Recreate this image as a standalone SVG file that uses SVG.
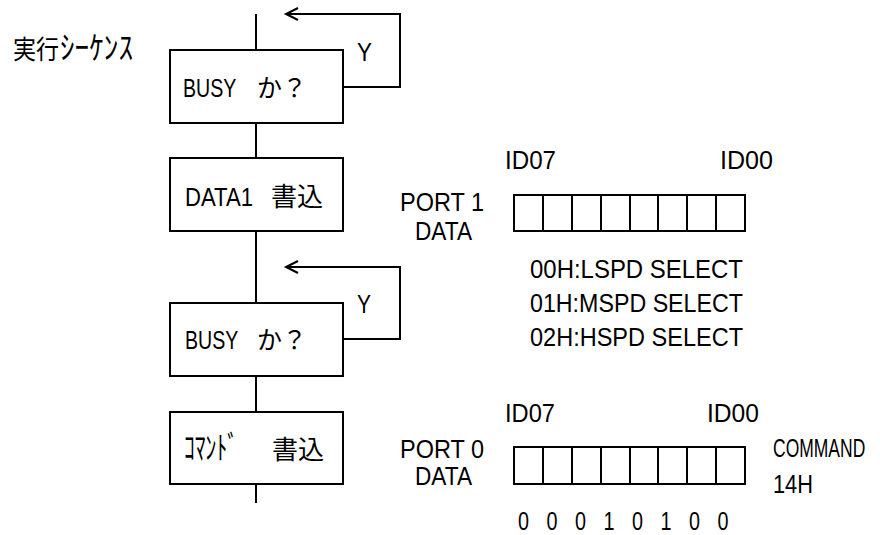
<svg xmlns="http://www.w3.org/2000/svg" width="880" height="535" viewBox="0 0 880 535">
  <style>
    .bg { fill: #ffffff; }
    .box { fill: #ffffff; stroke: #000000; stroke-width: 2; }
    .line { fill: none; stroke: #000000; stroke-width: 2; }
    .cell { fill: none; stroke: #000000; stroke-width: 2; }
    text { font-family: "Liberation Sans", "Noto Sans CJK JP", sans-serif; font-size: 25px; fill: #000000; }
    .jp { font-family: "Noto Sans CJK JP", "Liberation Sans", sans-serif; font-size: 26px; }
    .kana { font-family: "Noto Sans CJK JP", sans-serif; font-size: 32px; }
  </style>
  <defs>
    <marker id="chev" markerUnits="userSpaceOnUse" viewBox="-14 -8 16 16" markerWidth="16" markerHeight="16" refX="0" refY="0" orient="auto" overflow="visible">
      <path d="M-12,-6 L0,0 L-12,6" fill="none" stroke="#000000" stroke-width="2"/>
    </marker>
  </defs>
  <rect class="bg" x="0" y="0" width="880" height="535"/>

  <g id="connectors">
    <line class="line" x1="256" y1="14" x2="256" y2="50"/>
    <line class="line" x1="256" y1="123" x2="256" y2="158"/>
    <line class="line" x1="256" y1="231" x2="256" y2="303"/>
    <line class="line" x1="256" y1="376" x2="256" y2="412"/>
    <line class="line" x1="256" y1="484" x2="256" y2="503"/>
    <path class="line" d="M343,87 H400 V14 H286" marker-end="url(#chev)"/>
    <path class="line" d="M343,339 H400 V267 H286" marker-end="url(#chev)"/>
    <text x="357" y="61" textLength="15" lengthAdjust="spacingAndGlyphs">Y</text>
    <text x="357" y="313" textLength="14" lengthAdjust="spacingAndGlyphs">Y</text>
  </g>

  <g id="sequence-title">
    <text class="jp" x="13" y="59"><tspan x="13" textLength="46" lengthAdjust="spacingAndGlyphs">実行</tspan><tspan class="kana" x="60" textLength="73" lengthAdjust="spacingAndGlyphs">ｼｰｹﾝｽ</tspan></text>
  </g>

  <g id="busy1">
    <rect class="box" x="170" y="50" width="173" height="73"/>
    <text x="183" y="97"><tspan x="183" textLength="53" lengthAdjust="spacingAndGlyphs">BUSY</tspan> <tspan x="257">か？</tspan></text>
  </g>

  <g id="data1-write">
    <rect class="box" x="170" y="158" width="173" height="73"/>
    <text x="185" y="206"><tspan x="185" textLength="68" lengthAdjust="spacingAndGlyphs">DATA1</tspan> <tspan class="jp" x="271">書込</tspan></text>
  </g>

  <g id="busy2">
    <rect class="box" x="170" y="303" width="173" height="73"/>
    <text x="185" y="349"><tspan x="185" textLength="53" lengthAdjust="spacingAndGlyphs">BUSY</tspan> <tspan x="257">か？</tspan></text>
  </g>

  <g id="command-write">
    <rect class="box" x="170" y="412" width="173" height="72"/>
    <text class="jp" x="185" y="459"><tspan class="kana" x="184" textLength="54" lengthAdjust="spacingAndGlyphs">ｺﾏﾝﾄﾞ</tspan> <tspan x="272">書込</tspan></text>
  </g>

  <g id="port1">
    <text x="505" y="169" textLength="51" lengthAdjust="spacingAndGlyphs">ID07</text>
    <text x="720" y="169" textLength="53" lengthAdjust="spacingAndGlyphs">ID00</text>
    <text x="400" y="211" textLength="84" lengthAdjust="spacingAndGlyphs">PORT 1</text>
    <text x="415" y="240" textLength="57" lengthAdjust="spacingAndGlyphs">DATA</text>
    <rect class="cell" x="514" y="195" width="231" height="36"/>
    <path class="line" d="M543,195 V231 M572,195 V231 M601,195 V231 M630,195 V231 M658,195 V231 M687,195 V231 M716,195 V231"/>
  </g>

  <g id="port1-codes">
    <text x="530" y="278" textLength="213" lengthAdjust="spacingAndGlyphs">00H:LSPD SELECT</text>
    <text x="530" y="312" textLength="213" lengthAdjust="spacingAndGlyphs">01H:MSPD SELECT</text>
    <text x="530" y="346" textLength="213" lengthAdjust="spacingAndGlyphs">02H:HSPD SELECT</text>
  </g>

  <g id="port0">
    <text x="505" y="422" textLength="50" lengthAdjust="spacingAndGlyphs">ID07</text>
    <text x="707" y="422" textLength="52" lengthAdjust="spacingAndGlyphs">ID00</text>
    <text x="400" y="458" textLength="84" lengthAdjust="spacingAndGlyphs">PORT 0</text>
    <text x="415" y="485" textLength="57" lengthAdjust="spacingAndGlyphs">DATA</text>
    <rect class="cell" x="514" y="447" width="231" height="37"/>
    <path class="line" d="M543,447 V484 M572,447 V484 M601,447 V484 M630,447 V484 M658,447 V484 M687,447 V484 M716,447 V484"/>
  </g>

  <g id="port0-bits">
    <text x="518" y="530" textLength="11" lengthAdjust="spacingAndGlyphs">0</text>
    <text x="546.5" y="530" textLength="11" lengthAdjust="spacingAndGlyphs">0</text>
    <text x="575" y="530" textLength="11" lengthAdjust="spacingAndGlyphs">0</text>
    <text x="603.5" y="530" textLength="11" lengthAdjust="spacingAndGlyphs">1</text>
    <text x="632" y="530" textLength="11" lengthAdjust="spacingAndGlyphs">0</text>
    <text x="660.5" y="530" textLength="11" lengthAdjust="spacingAndGlyphs">1</text>
    <text x="689" y="530" textLength="11" lengthAdjust="spacingAndGlyphs">0</text>
    <text x="717.5" y="530" textLength="11" lengthAdjust="spacingAndGlyphs">0</text>
  </g>

  <g id="command-code">
    <text transform="translate(773,457) scale(0.7,1)" x="0" y="0">COMMAND</text>
    <text x="773" y="493" textLength="40" lengthAdjust="spacingAndGlyphs">14H</text>
  </g>
</svg>
